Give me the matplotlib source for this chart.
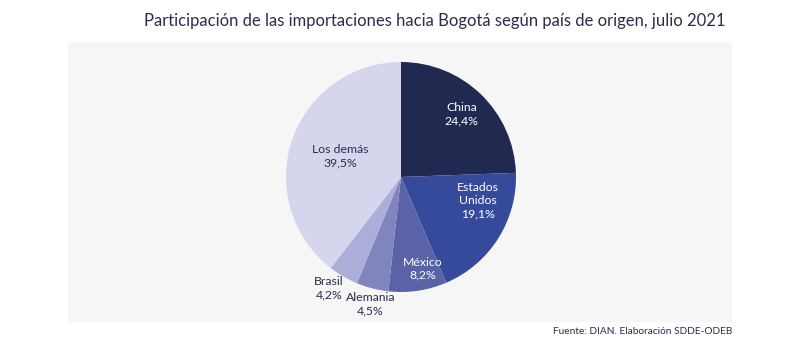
import numpy as np
import matplotlib.pyplot as plt
from matplotlib.patches import Rectangle

# === DATOS ===
paises = ["China", "Estados\nUnidos", "México", "Alemania", "Brasil", "Los demás"]
participacion = [24.4, 19.1, 8.2, 4.5, 4.2, 39.5]
colores = ["#222950", "#364a9b", "#5b63a8", "#8085bd", "#abaed8", "#d5d6ed"]

# posicion de etiquetas (fraccion del radio, ajuste de angulo)
dist_etq = [0.76, 0.70, 0.82, 1.14, 1.15, 0.56]
ajuste_ang = [0, 15, 5, 1, -3, 0]
color_txt = ["white", "white", "white", "#2a2d4f", "#2a2d4f", "#2a2d4f"]

plt.rcParams['font.family'] = ['Lato', 'DejaVu Sans']

fig = plt.figure(figsize=(8, 3.52), dpi=100)
fig.patch.set_facecolor("white")

# panel gris
fig.patches.append(Rectangle((68 / 800, 1 - 322 / 352), 664 / 800, 280 / 352,
                             transform=fig.transFigure, facecolor="#f7f6f7",
                             edgecolor="none", zorder=-5))

fig.text(435 / 800, 1 - 21 / 352, "Participación de las importaciones hacia Bogotá según país de origen, julio 2021",
         ha="center", va="center", fontsize=12, color="#2a2d4f")
fig.text(732 / 800, 1 - 332 / 352, "Fuente: DIAN. Elaboración SDDE-ODEB",
         ha="right", va="center", fontsize=7.3, color="#2a2d4f")

# === PASTEL ===
cx, cy, r = 401, 177, 115
ax = fig.add_axes([(cx - r) / 800, 1 - (cy + r) / 352, 2 * r / 800, 2 * r / 352])
ax.set_zorder(2)
wedges, _ = ax.pie(participacion, colors=colores, startangle=90, counterclock=False,
                   radius=1, wedgeprops=dict(linewidth=0))
ax.set_xlim(-1, 1)
ax.set_ylim(-1, 1)
ax.set_aspect("equal")
ax.axis("off")

for w, nombre, v, d, da, c in zip(wedges, paises, participacion, dist_etq, ajuste_ang, color_txt):
    ang = np.deg2rad((w.theta1 + w.theta2) / 2 + da)
    texto = f"{nombre}\n{v:.1f}%".replace(".", ",")
    ax.text(d * np.cos(ang), d * np.sin(ang), texto, ha="center", va="center",
            fontsize=8.8, color=c, linespacing=1.25, clip_on=False)

fig.savefig("out.png", dpi=100)
